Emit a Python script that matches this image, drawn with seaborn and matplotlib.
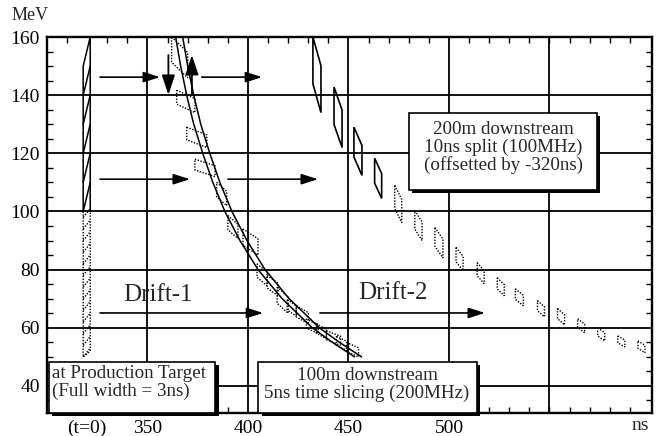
import matplotlib
matplotlib.use('Agg')
import matplotlib.pyplot as plt
import matplotlib.patheffects as pe
from matplotlib.patches import Rectangle, Polygon
import numpy as np
import pandas as pd
import seaborn as sns

# --- data (ns, MeV) ---
# bunch at the production target (t=0 drawn at 320 ns)
target_left_t = 318.0
target_right_t = 321.5
target_E_low = [50, 52]          # bottom corner, left / right
target_E_high = [150, 160]       # top corner, left / right
target_E_split = 100             # solid above, dotted below
target_cuts_solid = [100, 110, 120, 130, 140]
target_cuts_dotted = [50, 54, 58, 62, 66, 70, 74, 78, 82, 86, 90, 94, 98]

# 100m downstream: left edge of the drifted band
band_E = [160, 150, 140, 130, 120, 110, 100, 90, 80, 70, 60, 55, 50]
band_t = [364, 366.5, 369.5, 373, 377.5, 382.5, 388.5, 396, 405, 417, 432, 442, 453]
band_width = 3.5

# 100m downstream: 5ns slices (time window, energy span)
s100_t0 = [362, 364.5, 369.5, 373.6, 384.4, 390, 397.5, 404.5, 409.5, 414.5, 419.5, 424, 429, 434, 439, 444, 449]
s100_t1 = [370, 373.6, 379.5, 383.6, 389.4, 395, 405, 409.5, 415, 420, 424, 430, 435, 439, 446, 450, 455]
s100_E0 = [146, 134, 122, 112, 102, 90.7, 85, 74.5, 71, 65, 64, 61.4, 58, 56.2, 54, 52, 50]
s100_E1 = [160, 141.7, 129, 118, 110, 98.6, 94, 82, 78, 74, 69.7, 67.6, 63, 61.4, 59, 57, 55]

# 200m downstream: 10ns split bunches (offset by -320ns)
d200_t0 = [432.3, 442.8, 452.7, 463, 473, 483, 493, 503.5, 514, 524, 533, 544, 554, 564, 574, 584, 594]
d200_t1 = [436.3, 446.8, 456.7, 466.5, 476.5, 486.6, 497, 507, 517.5, 527.5, 537, 547.5, 557.5, 567.5, 577.5, 587.5, 597.5]
d200_Etop = [160, 142.8, 129, 118.3, 109, 100.3, 94.5, 87.6, 82.4, 77.2, 73.4, 69.3, 66.6, 63.1, 60, 57.2, 55.5]
d200_Ebot = [134, 122, 112.4, 104.5, 96.2, 90, 84, 79.7, 75.2, 71, 67.6, 63.8, 61, 58.3, 55.5, 53.4, 51.4]

# arrows: (t start, t end, E)
h_arrows = [(326.4, 356.2, 146.2), (377, 407, 146.2),
            (326.4, 371.1, 111.1), (390, 434.8, 111.1),
            (326.4, 407.5, 65.1), (435.8, 517.9, 65.1)]
# vertical arrows: (t, E start, E end)
v_arrows = [(360.4, 153.8, 140.1), (372.1, 140.1, 153.8)]

x_ticks = [320, 350, 400, 450, 500]
x_tick_labels = ['(t=0)', '350', '400', '450', '500']
y_ticks = [40, 60, 80, 100, 120, 140, 160]
grid_x = [350, 400, 450, 500, 550]
grid_y = [40, 60, 80, 100, 120, 140]

sns.set_theme(style='white')
plt.rcParams['font.family'] = ['Liberation Serif', 'DejaVu Serif']

DOT = (0, (1, 1.1))

fig = plt.figure(figsize=(6.66, 4.36), dpi=100)
ax = fig.add_axes([47 / 666, 1 - 413 / 436, 605 / 666, 376 / 436])
ax.set_xlim(300, 601)
ax.set_ylim(30.7, 160)

for v in grid_x:
    ax.axvline(v, color='black', lw=1.3, zorder=1)
for h in grid_y:
    ax.axhline(h, color='black', lw=1.3, zorder=1)


def lozenge(t0, t1, e0, e1, frac=0.38):
    s = frac * (e1 - e0)
    return [(t0, e1), (t1, e1 - s), (t1, e0), (t0, e0 + s)]


# target bunch
L, R = target_left_t, target_right_t
ax.plot([L, L, R, R], [target_E_split, target_E_high[0], target_E_high[1], target_E_split],
        color='black', lw=1.1, zorder=3)
ax.plot([L, L, R, R], [target_E_split, target_E_low[0], target_E_low[1], target_E_split],
        color='black', lw=1.0, ls=DOT, zorder=3)
for e in target_cuts_solid:
    ax.plot([L, R], [e, e + 10], color='black', lw=1.1, zorder=3)
for e in target_cuts_dotted:
    ax.plot([L, R], [e, e + 3], color='black', lw=1.0, ls=DOT, zorder=3)

# 100m band edges
band = pd.DataFrame({
    't': band_t + [t + band_width for t in band_t],
    'E': band_E + band_E,
    'edge': ['left'] * len(band_t) + ['right'] * len(band_t),
})
sns.lineplot(data=band, x='t', y='E', units='edge', estimator=None, sort=False,
             color='black', lw=1.1, ax=ax, zorder=3)

# 100m slices
for t0, t1, e0, e1 in zip(s100_t0, s100_t1, s100_E0, s100_E1):
    ax.add_patch(Polygon(lozenge(t0, t1, e0, e1), closed=True, fill=False,
                         edgecolor='black', lw=1.0, ls=DOT, zorder=3))

# 200m diamonds
for t0, t1, et, eb in zip(d200_t0, d200_t1, d200_Etop, d200_Ebot):
    solid = (et + eb) / 2 > 105
    ax.add_patch(Polygon(lozenge(t0, t1, eb, et), closed=True, fill=False,
                         edgecolor='black', lw=1.2 if solid else 1.0,
                         ls='-' if solid else DOT, zorder=3))

# arrows
for ts, te, e in h_arrows:
    ax.annotate('', xy=(te, e), xytext=(ts, e),
                arrowprops=dict(arrowstyle='-|>,head_length=0.5,head_width=0.16',
                                mutation_scale=20, color='black', lw=1.2,
                                shrinkA=0, shrinkB=0), zorder=4)
for t, es, ee in v_arrows:
    ax.annotate('', xy=(t, ee), xytext=(t, es),
                arrowprops=dict(arrowstyle='-|>,head_length=0.6,head_width=0.2',
                                mutation_scale=20, color='black', lw=1.3,
                                shrinkA=0, shrinkB=0), zorder=4)

# text boxes
shadow = [pe.SimplePatchShadow(offset=(2.5, -2.5), shadow_rgbFace='black', alpha=1), pe.Normal()]
boxes = [(301, 383.6, 30.7, 48.35), (405, 513.9, 30.7, 48.35), (480.1, 573.6, 107.4, 133.9)]
for x0, x1, y0, y1 in boxes:
    r = Rectangle((x0, y0), x1 - x0, y1 - y0, facecolor='white', edgecolor='black',
                  lw=1.2, zorder=5, clip_on=False)
    r.set_path_effects(shadow)
    ax.add_patch(r)

ax.text(302.3, 41.1, 'at Production Target\n(Full width = 3ns)', ha='left', va='center',
        fontsize=13.7, linespacing=1.02, zorder=6)
ax.text(459.2, 40.5, '100m downstream\n5ns time slicing (200MHz)', ha='center', va='center',
        fontsize=13.7, linespacing=1.02, zorder=6)
ax.text(526.9, 121.9, '200m downstream\n10ns split (100MHz)\n(offsetted by -320ns)',
        ha='center', va='center', fontsize=13.7, linespacing=1.02, zorder=6)

ax.text(355.2, 71.4, 'Drift-1', ha='center', va='center', fontsize=18, zorder=6)
ax.text(472.1, 72.1, 'Drift-2', ha='center', va='center', fontsize=18, zorder=6)

# axes, ticks
ax.set_xticks(x_ticks)
ax.set_xticklabels(x_tick_labels)
ax.set_yticks(y_ticks)
ax.set_xticks(np.arange(310, 600, 10), minor=True)
ax.set_yticks(np.arange(35, 160, 5), minor=True)
ax.tick_params(which='major', length=0, labelsize=14, pad=5, colors='black')
ax.tick_params(which='minor', direction='in', length=4, width=1.0, color='black',
               top=True, right=True, bottom=True, left=True)
ax.set_xlabel('')
ax.set_ylabel('')
for sp in ax.spines.values():
    sp.set_color('black')
    sp.set_linewidth(1.7)

fig.text(12 / 666, 1 - 15 / 436, 'MeV', ha='left', va='center', fontsize=13)
fig.text(640 / 666, 1 - 425 / 436, 'ns', ha='center', va='center', fontsize=14)

fig.savefig('out.png', dpi=100, facecolor='white')
